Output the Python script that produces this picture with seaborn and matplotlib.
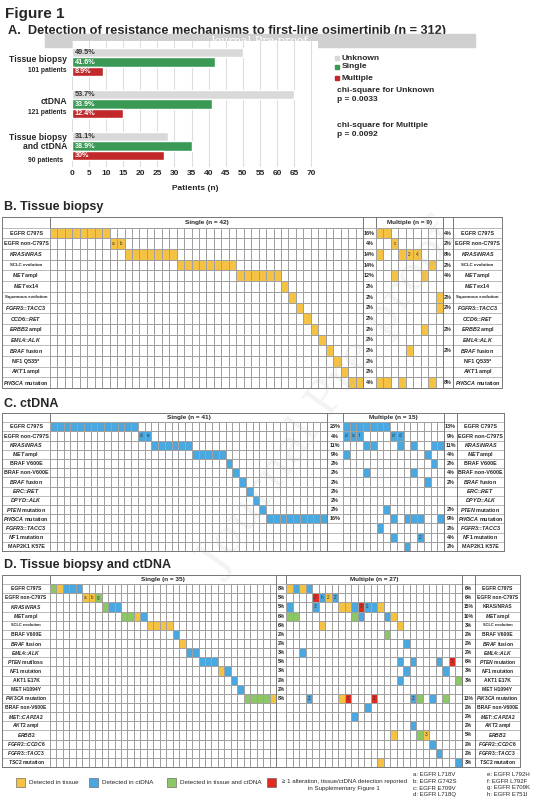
import matplotlib
matplotlib.use("Agg")
import matplotlib.pyplot as plt
import seaborn as sns
import numpy as np
import pandas as pd
from matplotlib.colors import ListedColormap
from matplotlib.patches import Rectangle

sns.set_theme(style="white")
plt.rcParams['font.family'] = ['Liberation Sans', 'DejaVu Sans']
plt.rcParams['mathtext.fontset'] = 'custom'
plt.rcParams['mathtext.it'] = 'Liberation Sans:italic:bold'
plt.rcParams['mathtext.rm'] = 'Liberation Sans:bold'
plt.rcParams['mathtext.bf'] = 'Liberation Sans:bold'

# ---------------- Panel A data ----------------
groups = ["Tissue biopsy", "ctDNA", "Tissue biopsy and ctDNA"]
group_sub = ["101 patients", "121 patients", "90 patients"]
types = ["Unknown", "Single", "Multiple"]
unknown_n = [50, 65, 28]
single_n = [42, 41, 35]
multiple_n = [9, 15, 27]
unknown_pct = ["49.5%", "53.7%", "31.1%"]
single_pct = ["41.6%", "33.9%", "38.9%"]
multiple_pct = ["8.9%", "12.4%", "30%"]
xticks_A = list(range(0, 75, 5))

# ---------------- Panel B data ----------------
B_rows = ["EGFR C797S", "EGFR non-C797S", r"$\it{KRAS/NRAS}$", "SCLC evolution", r"$\it{MET}$ ampl",
          r"$\it{MET}$ ex14", "Squamous evolution", r"$\it{FGFR3}$::$\it{TACC3}$", r"$\it{CCD6}$::$\it{RET}$",
          r"$\it{ERBB2}$ ampl", r"$\it{EML4}$::$\it{ALK}$", r"$\it{BRAF}$ fusion", "NF1 Q535*",
          r"$\it{AKT1}$ ampl", r"$\it{PIK3CA}$ mutation"]
B_single = ["YYYYYYYY", "YY", "YYYYYYY", "YYYYYYYY", "YYYYYY", "Y", "Y", "Y", "Y", "Y", "Y", "Y", "Y", "Y", "YY"]
B_single_lab = ["", "ab", "", "", "", "", "", "", "", "", "", "", "", "", ""]
B_multi = [[(0, 'Y'), (1, 'Y')], [(2, 'Y', 'c')], [(0, 'Y'), (3, 'Y'), (4, 'Y', '2'), (5, 'Y', '4')],
           [(7, 'Y')], [(2, 'Y'), (6, 'Y')], [], [(8, 'Y')], [(8, 'Y')], [], [(6, 'Y')], [],
           [(4, 'Y')], [], [], [(0, 'Y'), (1, 'Y'), (3, 'Y'), (7, 'Y')]]
B_left = ["16%", "4%", "14%", "14%", "12%", "2%", "2%", "2%", "2%", "2%", "2%", "2%", "2%", "2%", "4%"]
B_right = ["4%", "2%", "8%", "2%", "4%", "", "2%", "2%", "", "2%", "", "2%", "", "", "8%"]

# ---------------- Panel C data ----------------
C_rows = ["EGFR C797S", "EGFR non-C797S", r"$\it{KRAS/NRAS}$", r"$\it{MET}$ ampl", "BRAF V600E",
          "BRAF non-V600E", r"$\it{BRAF}$ fusion", r"$\it{ERC}$::$\it{RET}$", r"$\it{DPYD}$::$\it{ALK}$",
          r"$\it{PTEN}$ mutation", r"$\it{PIK3CA}$ mutation", r"$\it{FGFR3}$::$\it{TACC3}$",
          r"$\it{NF1}$ mutation", "MAP2K1 K57E"]
C_single = ["B" * 13, "BB", "B" * 6, "B" * 5, "B", "B", "B", "B", "B", "B", "B" * 9, "", "", ""]
C_single_lab = ["", "de", "", "", "", "", "", "", "", "", "", "", "", ""]
C_multi = [[(i, 'B') for i in range(7)],
           [(0, 'B', 'd'), (1, 'B', 'a'), (2, 'B', 'f'), (7, 'B', 'd'), (8, 'B', 'd')],
           [(3, 'B'), (4, 'B'), (8, 'B'), (10, 'B'), (13, 'B'), (14, 'B')],
           [(0, 'B'), (12, 'B')], [(13, 'B')], [(3, 'B'), (10, 'B')], [(12, 'B')], [], [],
           [(6, 'B')], [(7, 'B'), (9, 'B'), (10, 'B'), (11, 'B'), (14, 'B')], [(5, 'B')],
           [(7, 'B'), (11, 'B', '2')], [(9, 'B')]]
C_left = ["23%", "4%", "11%", "9%", "2%", "2%", "2%", "2%", "2%", "2%", "16%", "", "", ""]
C_right = ["13%", "9%", "11%", "4%", "2%", "4%", "2%", "", "", "2%", "9%", "2%", "4%", "2%"]

# ---------------- Panel D data ----------------
D_rows = ["EGFR C797S", "EGFR non-C797S", r"$\it{KRAS/NRAS}$", r"$\it{MET}$ ampl", "SCLC evolution",
          "BRAF V600E", r"$\it{BRAF}$ fusion", r"$\it{EML4}$::$\it{ALK}$", r"$\it{PTEN}$ mut/loss",
          r"$\it{NF1}$ mutation", "AKT1 E17K", "MET H1094Y", r"$\it{PIK3CA}$ mutation", "BRAF non-V600E",
          r"$\it{MET}$::$\it{CAPZA2}$", r"$\it{AKT2}$ ampl", r"$\it{ERBB2}$", r"$\it{FGFR2}$::$\it{CCDC6}$",
          r"$\it{FGFR3}$::$\it{TACC3}$", r"$\it{TSC2}$ mutation"]
D_rows_right = D_rows[:2] + ["KRAS/NRAS"] + D_rows[3:8] + [r"$\it{PTEN}$ mutation"] + D_rows[9:]
D_single = ["GYBBB", "YYG", "GBB", "GGYB", "YYYY", "B", "Y", "BB", "BBB", "YB", "B", "B", "GGGGY",
            "", "", "", "", "", "", ""]
D_single_lab = ["", "abg"] + [""] * 18
D_multi = [[(0, 'Y'), (1, 'B'), (2, 'Y'), (3, 'B')],
           [(4, 'R', '2'), (5, 'B', 'h'), (6, 'Y', '2'), (7, 'B', '2')],
           [(0, 'B'), (4, 'B', '3'), (8, 'Y'), (9, 'Y'), (10, 'B'), (11, 'R', '3'), (12, 'B', '2'), (13, 'B'), (14, 'Y')],
           [(0, 'G'), (1, 'G'), (10, 'G'), (11, 'B'), (15, 'B'), (16, 'Y')],
           [(5, 'Y'), (17, 'Y')], [(15, 'G')], [(18, 'B')], [(2, 'B')],
           [(17, 'B'), (19, 'B'), (23, 'B'), (25, 'R', '2')],
           [(18, 'B'), (24, 'B')], [(17, 'B'), (26, 'G')], [],
           [(3, 'B', '2'), (8, 'Y'), (9, 'R', '2'), (13, 'R', '2'), (19, 'B', '2'), (20, 'G'), (22, 'B'), (24, 'G')],
           [(12, 'B')], [(10, 'B')], [(19, 'B')], [(16, 'Y'), (20, 'G'), (21, 'Y', '3')],
           [(22, 'B')], [(23, 'B')], [(14, 'Y'), (26, 'B')]]
D_left = ["8%", "5%", "5%", "6%", "6%", "2%", "2%", "3%", "5%", "3%", "2%", "2%", "8%"] + [""] * 7
D_right = ["6%", "6%", "15%", "10%", "3%", "2%", "2%", "2%", "6%", "3%", "3%", "", "13%", "2%", "2%",
           "2%", "5%", "2%", "2%", "3%"]

legend_labels = ["Detected in tissue", "Detected in ctDNA", "Detected in tissue and ctDNA",
                 "\u2265 1 alteration, tissue/ctDNA detection reported\nin Supplementary Figure 1"]
footnotes_1 = ["a: EGFR L718V", "b: EGFR G742S", "c: EGFR E709V", "d: EGFR L718Q"]
footnotes_2 = ["e: EGFR L792H", "f: EGFR L792F", "g: EGFR E709K", "h: EGFR E751I"]

# ---------------- drawing ----------------
W, H = 554, 800
fig = plt.figure(figsize=(W / 100, H / 100), dpi=100)
ov = fig.add_axes([0, 0, 1, 1], zorder=0)
ov.set_xlim(0, W); ov.set_ylim(H, 0); ov.axis('off')

def pax(x0, y0, x1, y1, z=2):
    return fig.add_axes([x0 / W, 1 - y1 / H, (x1 - x0) / W, (y1 - y0) / H], zorder=z)

YEL, BLU, GRN, RED = '#f5c244', '#4aa8e0', '#8dc765', '#e02b20'
CODE = {'.': 0, 'Y': 1, 'B': 2, 'G': 3, 'R': 4}
cmap = ListedColormap(['white', YEL, BLU, GRN, RED])

ov.text(5, 14, "Figure 1", fontsize=11, weight='bold', va='center')
ov.text(8, 31, "A.  Detection of resistance mechanisms to first-line osimertinib (n = 312)",
        fontsize=9.2, weight='bold', va='center')
ov.add_patch(Rectangle((45, 34), 430, 13, color='#d0d0d0', zorder=3))
ov.text(260, 41, "Journal Pre-proof", fontsize=8, color='white', family='DejaVu Serif',
        ha='center', va='center', zorder=4)

# Panel A
dfA = pd.DataFrame({"group": np.repeat(groups, 3), "type": types * 3,
                    "value": np.ravel(np.column_stack([unknown_n, single_n, multiple_n]))})
axA = pax(72, 41, 318, 167)
sns.barplot(data=dfA, y="group", x="value", hue="type", orient='h', palette=['#d9d9d9', '#3a9a55', '#c0282a'],
            width=0.66, ax=axA, legend=False, saturation=1)
axA.set_xlim(0, 72); axA.set_xticks(xticks_A)
axA.set_xticklabels([str(t) for t in xticks_A], fontsize=6, weight='bold')
axA.set_yticks([]); axA.set_ylabel(""); axA.set_xlabel("")
axA.grid(axis='x', color='#dddddd', lw=0.8)
axA.set_axisbelow(True)
for s in axA.spines.values():
    s.set_visible(False)
axA.tick_params(axis='x', length=0, pad=2)
pcts = [unknown_pct, single_pct, multiple_pct]
for ci, cont in enumerate(axA.containers):
    for gi, p in enumerate(cont.patches):
        axA.text(p.get_x() + 0.8, p.get_y() + p.get_height() / 2, pcts[ci][gi], fontsize=5.2, weight='bold',
                 va='center', color='#333333' if ci == 0 else 'white')
ov.text(195, 189, "Patients (n)", fontsize=6, weight='bold', ha='center', va='center')
for lab, sub, yc in [("Tissue biopsy", group_sub[0], 62), ("ctDNA", group_sub[1], 103),
                     ("Tissue biopsy\nand ctDNA", group_sub[2], 145)]:
    if "\n" in lab:
        ov.text(67, yc - 3, lab, fontsize=6.2, weight='bold', ha='right', va='center', linespacing=1.1)
        ov.text(63, yc + 15, sub, fontsize=4.8, weight='bold', ha='right', va='center')
    else:
        ov.text(67, yc - 2, lab, fontsize=6.2, weight='bold', ha='right', va='center')
        ov.text(67, yc + 9, sub, fontsize=4.8, weight='bold', ha='right', va='center')
for t, c, yy in zip(types, ['#d9d9d9', '#3a9a55', '#c0282a'], [58, 67, 78]):
    ov.add_patch(Rectangle((335, yy - 2), 4, 4, color=c))
    ov.text(342, yy, t, fontsize=6, weight='bold', va='center')
ov.text(337, 95, "chi-square for Unknown\np = 0.0033", fontsize=6, weight='bold', va='center', linespacing=1.3)
ov.text(337, 130, "chi-square for Multiple\np = 0.0092", fontsize=6, weight='bold', va='center', linespacing=1.3)

def table(top, bottom, xb, labels, rlabels, single, single_lab, multi, nm, lp, rp, hs, hm, fs=3.9):
    x0, xs0, xs1, xm0, xm1, xp1, xr1 = xb
    n = len(labels)
    rh = (bottom - top) / (n + 1)
    gt = top + rh
    ns = sum(len(s) for s in single)
    Ms = np.zeros((n, ns)); As = np.full((n, ns), "", dtype=object)
    c = 0
    for r, s in enumerate(single):
        for k, ch in enumerate(s):
            Ms[r, c] = CODE[ch]
            if single_lab[r]:
                As[r, c] = single_lab[r][k]
            c += 1
    Mm = np.zeros((n, nm)); Am = np.full((n, nm), "", dtype=object)
    for r, cells in enumerate(multi):
        for cell in cells:
            Mm[r, cell[0]] = CODE[cell[1]]
            if len(cell) > 2:
                Am[r, cell[0]] = cell[2]
    for M, A, a0, a1 in [(Ms, As, xs0, xs1), (Mm, Am, xm0, xm1)]:
        ax = pax(a0, gt, a1, bottom)
        sns.heatmap(M, ax=ax, cmap=cmap, vmin=-0.5, vmax=4.5, cbar=False, linewidths=0.5,
                    linecolor='#a0a0a0', annot=A, fmt='', annot_kws={'fontsize': 3.3, 'color': '#333333'},
                    xticklabels=False, yticklabels=False)
    for i in range(n + 2):
        y = top + i * rh
        ov.plot([x0, xr1], [y, y], color='#a0a0a0', lw=0.5)
    for x in [x0, xs0, xs1, xm0, xm1, xp1, xr1]:
        ov.plot([x, x], [top, bottom], color='#777777', lw=0.7)
    ov.plot([x0, xr1], [bottom, bottom], color='#777777', lw=0.7)
    ov.plot([x0, xr1], [top, top], color='#777777', lw=0.7)
    ov.text((xs0 + xs1) / 2, top + rh / 2, hs, fontsize=4.6, weight='bold', ha='center', va='center')
    ov.text((xm0 + xm1) / 2, top + rh / 2, hm, fontsize=4.6, weight='bold', ha='center', va='center')
    for r in range(n):
        yc = gt + (r + 0.5) * rh
        f = fs * 0.8 if 'evolution' in labels[r] else fs
        ov.text((x0 + xs0) / 2, yc, labels[r], fontsize=f, weight='bold', ha='center', va='center')
        f2 = fs * 0.8 if 'evolution' in rlabels[r] else fs
        ov.text((xp1 + xr1) / 2, yc, rlabels[r], fontsize=f2, weight='bold', ha='center', va='center')
        ov.text((xs1 + xm0) / 2, yc, lp[r], fontsize=fs, weight='bold', ha='center', va='center')
        ov.text((xm1 + xp1) / 2, yc, rp[r], fontsize=fs, weight='bold', ha='center', va='center')

ov.text(4, 207, "B. Tissue biopsy", fontsize=9, weight='bold', va='center')
table(217, 388, [2, 50, 363, 376, 443, 453, 502], B_rows, B_rows, B_single, B_single_lab, B_multi, 9,
      B_left, B_right, "Single (n = 42)", "Multiple (n = 9)")
ov.text(4, 404, "C. ctDNA", fontsize=9, weight='bold', va='center')
table(413, 551, [2, 50, 327, 343, 444, 457, 504], C_rows, C_rows, C_single, C_single_lab, C_multi, 15,
      C_left, C_right, "Single (n = 41)", "Multiple (n = 15)")
ov.text(4, 565, "D. Tissue biopsy and ctDNA", fontsize=9, weight='bold', va='center')
table(575, 767, [2, 50, 276, 286, 462, 475, 520], D_rows, D_rows_right, D_single, D_single_lab, D_multi, 27,
      D_left, D_right, "Single (n = 35)", "Multiple (n = 27)", fs=3.6)

for col, lab, xx in zip([YEL, BLU, GRN, RED], legend_labels, [16, 89, 167, 267]):
    ov.add_patch(Rectangle((xx, 778), 9, 9, facecolor=col, edgecolor='#555555', lw=0.4))
    if "\n" in lab:
        ov.text(344, 785, lab, fontsize=4.4, ha='center', va='center', linespacing=1.3)
    else:
        ov.text(xx + 13, 783, lab, fontsize=4.5, va='center')
for i, (f1, f2) in enumerate(zip(footnotes_1, footnotes_2)):
    ov.text(413, 775 + i * 6.5, f1, fontsize=4.3, va='center')
    ov.text(487, 775 + i * 6.5, f2, fontsize=4.3, va='center')

fig.text(330 / W, 1 - 400 / H, "Journal Pre-proof", fontsize=34, color='#b0b0b0', alpha=0.15,
         family='DejaVu Serif', rotation=55, ha='center', va='center', zorder=10)

fig.savefig("out.png", dpi=100)
